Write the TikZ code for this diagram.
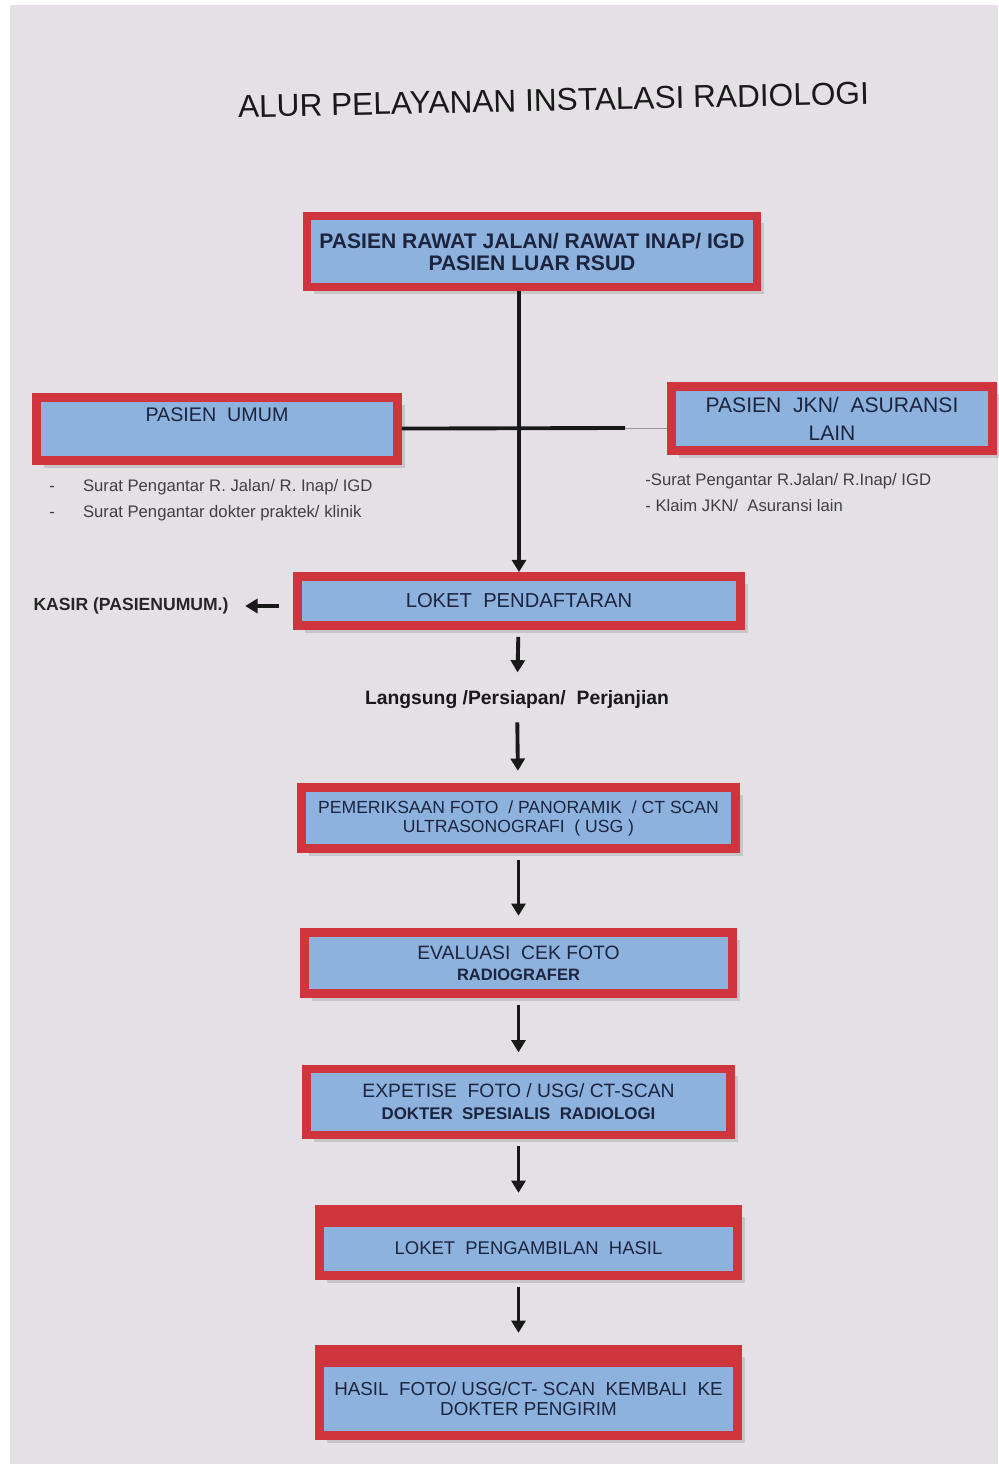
\documentclass[tikz,border=0pt]{standalone}
\usepackage{fontspec}
\setmainfont{Liberation Sans}
\usepackage{tikz}
\usetikzlibrary{shapes}
\usetikzlibrary{arrows,arrows.meta}
\usetikzlibrary{positioning}
\usetikzlibrary{calc}
\usetikzlibrary{shadows}
\definecolor{merah}{RGB}{208,52,60}
\definecolor{biru}{RGB}{142,178,222}
\definecolor{latar}{RGB}{228,224,230}
\definecolor{tinta}{RGB}{28,36,62}
\tikzstyle{kotak}=[
        rectangle,
        draw=merah,
        line width=5pt,
        fill=biru,
        text=tinta,
        align=center,
        inner sep=2pt,
        drop shadow={shadow xshift=4pt,shadow yshift=-4pt,fill=black!35,opacity=0.45}
]
\tikzstyle{pitaatas}=[path picture={\fill[merah] (path picture bounding box.north west) rectangle ([yshift=-10pt]path picture bounding box.north east);}]
\tikzstyle{catatan}=[text=black!75,anchor=west,align=left,inner sep=0pt,font=\fontsize{9.5}{14.7}\selectfont]
\tikzstyle{alur}=[-{Triangle[width=8pt,length=7pt]},line width=2.2pt,black!90,shorten >=7pt,shorten <=4pt]
\tikzstyle{garis}=[line width=2.2pt,black!90]

\begin{document}
\begin{tikzpicture}
\useasboundingbox (0,0) rectangle (19.96,-29.28);
\fill[white] (0,0) rectangle (19.96,-29.28);
\fill[latar] (0.2,-0.1) rectangle (19.96,-29.28);
\node[text=black!90,rotate=1.2,font=\fontsize{18}{20}\selectfont] (judul) at (11.07,-2.0) {ALUR PELAYANAN INSTALASI RADIOLOGI};
\node[kotak,minimum width=9.0cm,minimum height=1.42cm,font=\bfseries\fontsize{12}{12.5}\selectfont] (pasien) at (10.64,-5.03) {PASIEN RAWAT JALAN/ RAWAT INAP/ IGD\\PASIEN LUAR RSUD};
\node[kotak,minimum width=7.22cm,minimum height=1.26cm,font=\fontsize{11.2}{16}\selectfont] (umum) at (4.34,-8.58) {PASIEN \ UMUM\\~};
\node[kotak,minimum width=6.42cm,minimum height=1.28cm,font=\fontsize{12}{16}\selectfont] (jkn) at (16.64,-8.37) {PASIEN \ JKN/ \ ASURANSI\\LAIN};
\node[catatan] (catumum) at (0.98,-10.0) {-\hspace{16pt}Surat Pengantar R. Jalan/ R. Inap/ IGD\\-\hspace{16pt}Surat Pengantar dokter praktek/ klinik};
\node[catatan] (catjkn) at (12.9,-9.85) {-Surat Pengantar R.Jalan/ R.Inap/ IGD\\- Klaim JKN/ \ Asuransi lain};
\node[kotak,minimum width=8.86cm,minimum height=0.98cm,font=\fontsize{11.5}{13}\selectfont] (loket) at (10.38,-12.02) {LOKET \ PENDAFTARAN};
\node[text=black!85,font=\bfseries\fontsize{10}{11}\selectfont] (kasir) at (2.62,-12.12) {KASIR (PASIENUMUM.)};
\node[text=black!90,font=\bfseries\fontsize{11}{12}\selectfont] (langsung) at (10.34,-14.0) {Langsung /Persiapan/ \ Perjanjian};
\node[kotak,minimum width=8.68cm,minimum height=1.22cm,font=\fontsize{10}{10.8}\selectfont] (periksa) at (10.37,-16.36) {PEMERIKSAAN FOTO \ / PANORAMIK \ / CT SCAN\\ULTRASONOGRAFI \ ( USG )};
\node[kotak,minimum width=8.56cm,minimum height=1.22cm,font=\fontsize{11}{12}\selectfont] (evaluasi) at (10.37,-19.26) {EVALUASI \ CEK FOTO\\{\bfseries\fontsize{9.4}{12}\selectfont RADIOGRAFER}};
\node[kotak,minimum width=8.48cm,minimum height=1.32cm,font=\fontsize{11}{12.5}\selectfont] (expertise) at (10.37,-22.04) {EXPETISE \ FOTO / USG/ CT-SCAN\\{\bfseries\fontsize{9.6}{12.5}\selectfont DOKTER \ SPESIALIS \ RADIOLOGI}};
\node[kotak,pitaatas,minimum width=8.36cm,minimum height=1.32cm,text height=14pt,font=\fontsize{10.5}{12}\selectfont] (ambil) at (10.57,-24.85) {LOKET \ PENGAMBILAN \ HASIL};
\node[kotak,pitaatas,minimum width=8.36cm,minimum height=1.72cm,text height=26pt,font=\fontsize{10.7}{11.5}\selectfont] (hasil) at (10.57,-27.85) {HASIL \ FOTO/ USG/CT- SCAN \ KEMBALI \ KE\\DOKTER PENGIRIM};
\coordinate (sambung) at (12.5,-8.56);
% garis dan panah
\draw[alur,shorten >=0pt,shorten <=0pt] (loket |- pasien.south) -- (loket);
\draw[garis] (umum) -- (sambung);
\draw[black!40,thin] (sambung) -- (jkn.west |- sambung);
\draw[alur,shorten <=8pt,shorten >=6pt] (kasir -| loket.west) -- (kasir);
\draw[alur] (loket) -- (langsung);
\draw[alur] (langsung) -- (periksa);
\draw[alur] (periksa) -- (evaluasi);
\draw[alur] (evaluasi) -- (expertise);
\draw[alur] (expertise.south) -- (expertise.south |- ambil.north);
\draw[alur] (expertise.south |- ambil.south) -- (expertise.south |- hasil.north);
\end{tikzpicture}
\end{document}
